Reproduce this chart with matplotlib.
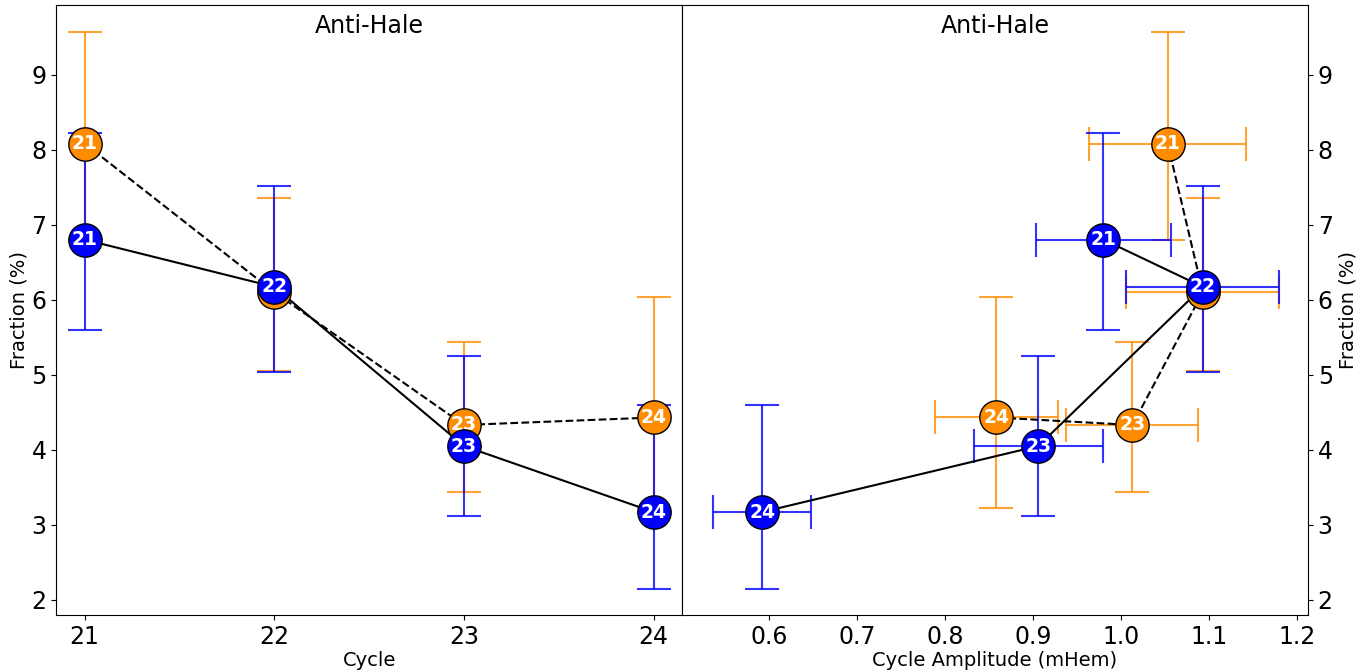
import matplotlib
matplotlib.use("Agg")
import matplotlib.pyplot as plt
import numpy as np

# cicli
cycles = [21, 22, 23, 24]
labels = ["21", "22", "23", "24"]

# serie blu
blue_frac = [6.80, 6.17, 4.05, 3.17]
blue_lo = [5.60, 5.04, 3.12, 2.15]
blue_hi = [8.22, 7.52, 5.25, 4.60]
blue_amp = [0.980, 1.093, 0.906, 0.592]
blue_amp_err = [0.077, 0.087, 0.073, 0.056]

# serie arancione
orange_frac = [8.08, 6.10, 4.33, 4.43]
orange_lo = [6.80, 5.05, 3.44, 3.22]
orange_hi = [9.56, 7.36, 5.43, 6.04]
orange_amp = [1.053, 1.093, 1.013, 0.858]
orange_amp_err = [0.089, 0.087, 0.075, 0.070]

fig, (ax1, ax2) = plt.subplots(1, 2, figsize=(13.71, 6.72), dpi=100, sharey=True)
fig.subplots_adjust(left=0.041, right=0.954, top=0.993, bottom=0.085, wspace=0)


def draw(ax, x, y, lo, hi, xerr, color, ls, z):
    y = np.array(y)
    yerr = [y - np.array(lo), np.array(hi) - y]
    ax.errorbar(x, y, yerr=yerr, xerr=xerr, fmt="none", ecolor=color,
                elinewidth=1.5, capsize=12, capthick=1.5, alpha=0.8, zorder=2)
    ax.plot(x, y, color="black", ls=ls, lw=1.5, zorder=3)
    ax.plot(x, y, "o", ms=24, mfc=color, mec="black", mew=1, ls="none", zorder=z)
    for xi, yi, t in zip(x, y, labels):
        ax.text(xi, yi, t, color="white", fontsize=13.5, fontweight="bold",
                ha="center", va="center", zorder=z + 0.5)


# pannello sinistro: frazione vs ciclo
draw(ax1, cycles, orange_frac, orange_lo, orange_hi, None, "darkorange", "--", 4)
draw(ax1, cycles, blue_frac, blue_lo, blue_hi, None, "blue", "-", 5)
ax1.set_xticks(cycles)
ax1.set_xlabel("Cycle", fontsize=14, labelpad=2)
ax1.set_ylabel("Fraction (%)", fontsize=14, labelpad=2)
ax1.text(0.5, 0.985, "Anti-Hale", transform=ax1.transAxes, ha="center", va="top", fontsize=17)

# pannello destro: frazione vs ampiezza
draw(ax2, orange_amp, orange_frac, orange_lo, orange_hi, orange_amp_err, "darkorange", "--", 4)
draw(ax2, blue_amp, blue_frac, blue_lo, blue_hi, blue_amp_err, "blue", "-", 5)
ax2.set_xlim(0.501, 1.2125)
ax2.set_xticks([0.6, 0.7, 0.8, 0.9, 1.0, 1.1, 1.2])
ax2.set_xlabel("Cycle Amplitude (mHem)", fontsize=14, labelpad=2)
ax2.yaxis.tick_right()
ax2.yaxis.set_label_position("right")
ax2.tick_params(axis="y", which="both", left=False, right=True, labelleft=False, labelright=True)
ax2.set_ylabel("Fraction (%)", fontsize=14, labelpad=4)
ax2.text(0.5, 0.985, "Anti-Hale", transform=ax2.transAxes, ha="center", va="top", fontsize=17)

ax1.set_ylim(1.8, 9.93)
ax1.set_yticks([2, 3, 4, 5, 6, 7, 8, 9])
for ax in (ax1, ax2):
    ax.tick_params(labelsize=17)

fig.savefig("out.png", dpi=100)
